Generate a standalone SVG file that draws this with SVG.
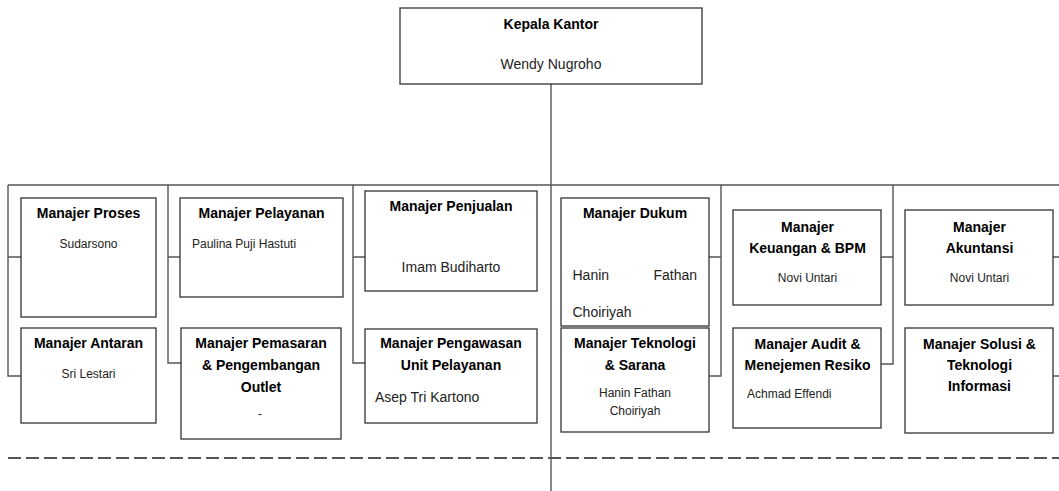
<svg xmlns="http://www.w3.org/2000/svg" width="1059" height="491" viewBox="0 0 1059 491">
<style>
.box{fill:#fff;stroke:#333;stroke-width:1.3}
.ln{fill:none;stroke:#555;stroke-width:1.4}
.t{font-family:"Liberation Sans",Arial,sans-serif;font-weight:bold;font-size:14px;fill:#000;text-anchor:middle}
.n{font-family:"Liberation Sans",Arial,sans-serif;font-size:12px;fill:#222;text-anchor:middle}
.n14{font-family:"Liberation Sans",Arial,sans-serif;font-size:14px;fill:#222;text-anchor:middle}
.l{text-anchor:start}
.r{text-anchor:end}
</style>
<rect width="1059" height="491" fill="#fff"/>
<g id="connectors">
<path class="ln" d="M551 84V491"/>
<path class="ln" d="M8 185H1059"/>
<path class="ln" d="M8 185V376H21M8 257H21"/>
<path class="ln" d="M168 185V363H181M168 257H181"/>
<path class="ln" d="M353 185V363H365M353 257H365"/>
<path class="ln" d="M721 185V376H709M721 257H709"/>
<path class="ln" d="M893 185V364H881M893 257H881"/>
<path class="ln" d="M1053 257H1059M1053 376H1059"/>
<path d="M8 458H1059" fill="none" stroke="#555" stroke-width="2" stroke-dasharray="13 5"/>
</g>
<g id="kepala">
<rect class="box" x="400" y="8" width="302" height="76"/>
<text class="t" x="551" y="29">Kepala Kantor</text>
<text class="n14" x="551" y="69">Wendy Nugroho</text>
</g>
<g id="proses">
<rect class="box" x="21" y="198" width="135" height="119"/>
<text class="t" x="88.5" y="218">Manajer Proses</text>
<text class="n" x="88.5" y="248">Sudarsono</text>
</g>
<g id="antaran">
<rect class="box" x="21" y="328" width="135" height="95"/>
<text class="t" x="88.5" y="348">Manajer Antaran</text>
<text class="n" x="88.5" y="378">Sri Lestari</text>
</g>
<g id="pelayanan">
<rect class="box" x="180" y="198" width="163" height="99"/>
<text class="t" x="261.5" y="218">Manajer Pelayanan</text>
<text class="n l" x="192" y="248">Paulina Puji Hastuti</text>
</g>
<g id="pemasaran">
<rect class="box" x="181" y="328" width="160" height="111"/>
<text class="t" x="261" y="348">Manajer Pemasaran</text>
<text class="t" x="261" y="370">&amp; Pengembangan</text>
<text class="t" x="261" y="392">Outlet</text>
<text class="n" x="260" y="418">-</text>
</g>
<g id="penjualan">
<rect class="box" x="365" y="191" width="172" height="100"/>
<text class="t" x="451" y="211">Manajer Penjualan</text>
<text class="n14" x="451" y="272">Imam Budiharto</text>
</g>
<g id="pengawasan">
<rect class="box" x="365" y="329" width="172" height="94"/>
<text class="t" x="451" y="348">Manajer Pengawasan</text>
<text class="t" x="451" y="370">Unit Pelayanan</text>
<text class="n14 l" x="375" y="402">Asep Tri Kartono</text>
</g>
<g id="dukum">
<rect class="box" x="561" y="198" width="148" height="128"/>
<text class="t" x="635" y="218">Manajer Dukum</text>
<text class="n14 l" x="572.5" y="280">Hanin</text>
<text class="n14 r" x="697" y="280">Fathan</text>
<text class="n14 l" x="572.5" y="317">Choiriyah</text>
</g>
<g id="teknologi">
<rect class="box" x="561" y="328" width="148" height="104"/>
<text class="t" x="635" y="348">Manajer Teknologi</text>
<text class="t" x="635" y="370">&amp; Sarana</text>
<text class="n" x="635" y="397">Hanin Fathan</text>
<text class="n" x="635" y="415">Choiriyah</text>
</g>
<g id="keuangan">
<rect class="box" x="733" y="210" width="148" height="95"/>
<text class="t" x="807.5" y="232">Manajer</text>
<text class="t" x="807.5" y="253">Keuangan &amp; BPM</text>
<text class="n" x="807.5" y="282">Novi Untari</text>
</g>
<g id="audit">
<rect class="box" x="733" y="328" width="148" height="100"/>
<text class="t" x="807.5" y="349">Manajer Audit &amp;</text>
<text class="t" x="807.5" y="370">Menejemen Resiko</text>
<text class="n l" x="747" y="398">Achmad Effendi</text>
</g>
<g id="akuntansi">
<rect class="box" x="905" y="210" width="148" height="95"/>
<text class="t" x="979.5" y="232">Manajer</text>
<text class="t" x="979.5" y="253">Akuntansi</text>
<text class="n" x="979.5" y="282">Novi Untari</text>
</g>
<g id="solusi">
<rect class="box" x="905" y="328" width="148" height="105"/>
<text class="t" x="979.5" y="349">Manajer Solusi &amp;</text>
<text class="t" x="979.5" y="370">Teknologi</text>
<text class="t" x="979.5" y="391">Informasi</text>
</g>
</svg>
